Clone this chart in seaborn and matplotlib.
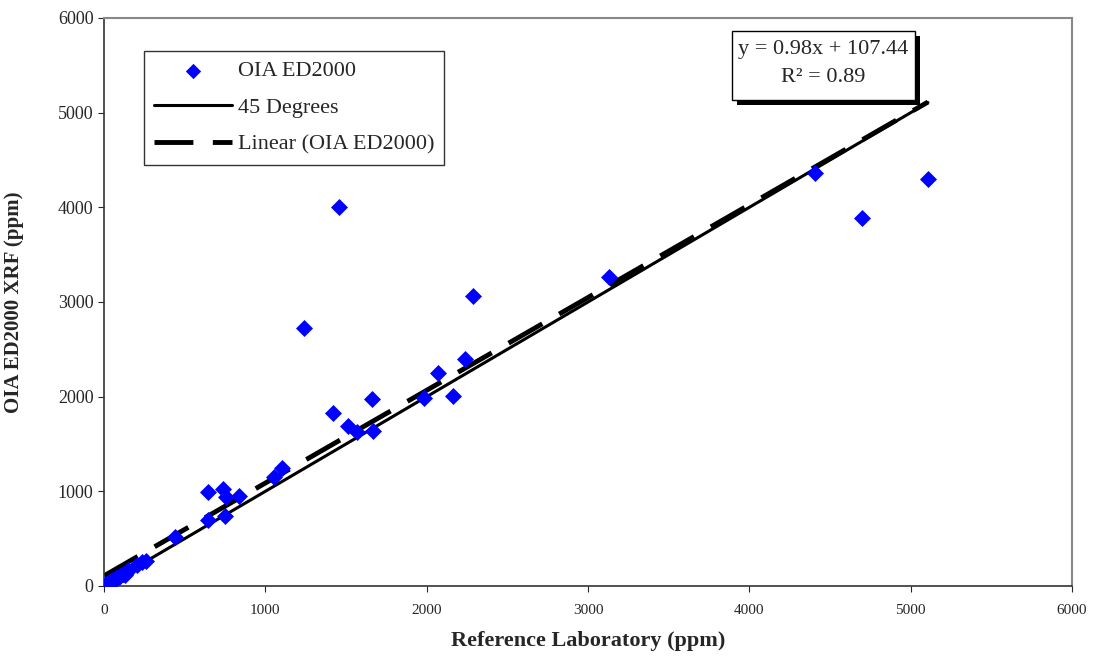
import numpy as np
import pandas as pd
import matplotlib
matplotlib.use("Agg")
import matplotlib.pyplot as plt
import seaborn as sns

# Reference lab vs OIA ED2000 XRF readings (ppm)
ref_lab = [0, 5, 15, 25, 40, 50, 60, 75, 90, 100, 120, 130, 145, 150, 204, 235, 260,
           440, 645, 645, 738, 750, 756, 837, 1054, 1103, 1240, 1420, 1457, 1512,
           1568, 1661, 1667, 1983, 2070, 2163, 2238, 2287, 3130, 4407, 4698, 5107]
oia_xrf = [0, 10, 20, 30, 35, 60, 55, 80, 95, 110, 130, 115, 150, 170, 222, 253, 262,
           518, 993, 700, 1025, 739, 940, 950, 1151, 1246, 2725, 1827, 4004, 1690,
           1627, 1975, 1640, 1986, 2250, 2007, 2398, 3063, 3264, 4363, 3887, 4299]

# Excel trendline coefficients as printed on the chart
slope = 0.98
intercept = 107.44
r_squared = 0.89

df = pd.DataFrame({"ref": ref_lab, "xrf": oia_xrf})
x_ends = np.array([min(ref_lab), max(ref_lab)])
lines = pd.DataFrame({"x": x_ends, "deg45": x_ends, "fit": slope * x_ends + intercept})

sns.set_style("white")
plt.rcParams["font.family"] = ["Liberation Serif", "DejaVu Serif"]

fig = plt.figure(figsize=(11.01, 6.61), dpi=100)
ax = fig.add_axes([0.0945, 0.1135, 0.8792, 0.8593])

sns.lineplot(data=lines, x="x", y="deg45", ax=ax, color="black", lw=2.2,
             label="45 Degrees", zorder=2)
sns.lineplot(data=lines, x="x", y="fit", ax=ax, color="black", lw=3.5,
             dashes=False, label="Linear (OIA ED2000)", zorder=2)
ax.lines[-1].set_dashes([8, 4])
sns.scatterplot(data=df, x="ref", y="xrf", ax=ax, marker="D", s=75, color="#0000FF",
                edgecolor="#0000FF", linewidth=0, label="OIA ED2000", zorder=3)

ax.set_xlim(0, 6000)
ax.set_ylim(0, 6000)
ax.set_xticks(range(0, 6001, 1000))
ax.set_yticks(range(0, 6001, 1000))
ax.tick_params(axis="x", labelsize=11, length=4, direction="out", bottom=True, pad=9)
ax.tick_params(axis="y", labelsize=13, length=4, direction="out", left=True)

for side in ["left", "bottom"]:
    ax.spines[side].set_color("#333333")
    ax.spines[side].set_linewidth(1.2)
for side in ["top", "right"]:
    ax.spines[side].set_color("#888888")
    ax.spines[side].set_linewidth(1.5)

ax.set_xlabel("Reference Laboratory (ppm)", fontsize=16, fontweight="bold", va="center")
ax.set_ylabel("OIA ED2000 XRF (ppm)", fontsize=15, fontweight="bold", va="center")
ax.xaxis.set_label_coords(0.5, -0.0968)
ax.yaxis.set_label_coords(-0.093, 0.5)

handles, labels = ax.get_legend_handles_labels()
order = [labels.index("OIA ED2000"), labels.index("45 Degrees"),
         labels.index("Linear (OIA ED2000)")]
leg = ax.legend([handles[i] for i in order], [labels[i] for i in order],
                loc="upper left", bbox_to_anchor=(0.0413, 0.942), fontsize=16,
                frameon=True, fancybox=False, handlelength=3.5, handletextpad=0.27,
                borderpad=0.45, borderaxespad=0, labelspacing=0.72, markerscale=0.9)
leg.get_frame().set_edgecolor("black")
leg.get_frame().set_linewidth(1.0)

# equation box with drop shadow
ax.add_patch(plt.Rectangle((0.6539, 0.8468), 0.1890, 0.1215, transform=ax.transAxes,
                           facecolor="black", edgecolor="none", zorder=4))
ax.add_patch(plt.Rectangle((0.6488, 0.8556), 0.1890, 0.1215, transform=ax.transAxes,
                           facecolor="white", edgecolor="black", linewidth=1.0, zorder=5))
ax.text(0.7433, 0.945, f"y = {slope:.2f}x + {intercept:.2f}", transform=ax.transAxes,
        ha="center", va="center", fontsize=16, zorder=6)
ax.text(0.7433, 0.895, f"R\u00b2 = {r_squared:.2f}", transform=ax.transAxes,
        ha="center", va="center", fontsize=16, zorder=6)

fig.savefig("out.png", dpi=100)
